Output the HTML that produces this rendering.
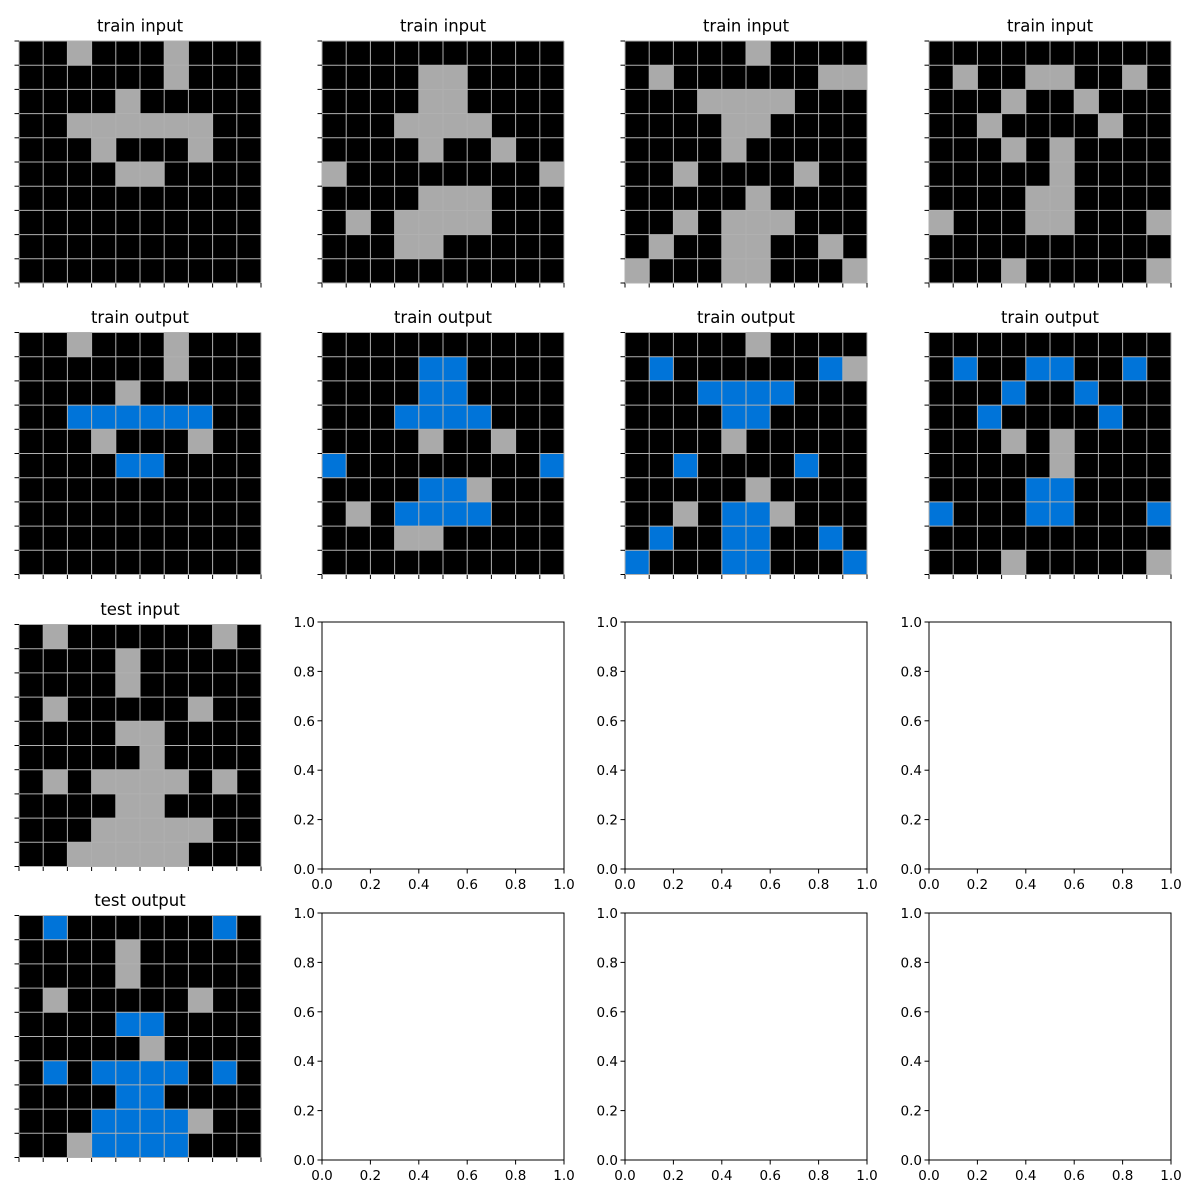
<!DOCTYPE html>
<html><head><meta charset="utf-8"><style>
html,body{margin:0;padding:0;background:#fff;}
svg{display:block;font-family:"DejaVu Sans","Liberation Sans",sans-serif;}
</style></head><body>
<svg id="fig" width="1200" height="1200" viewBox="0 0 1200 1200" xmlns="http://www.w3.org/2000/svg"></svg>
<script>
// Grid data: lists of [row, [cols]] for gray (5) and blue (8) cells
const grids = [
 {title:"train input", col:0, row:0, gray:[[0,[2,6]],[1,[6]],[2,[4]],[3,[2,3,4,5,6,7]],[4,[3,7]],[5,[4,5]]], blue:[]},
 {title:"train input", col:1, row:0, gray:[[1,[4,5]],[2,[4,5]],[3,[3,4,5,6]],[4,[4,7]],[5,[0,9]],[6,[4,5,6]],[7,[1,3,4,5,6]],[8,[3,4]]], blue:[]},
 {title:"train input", col:2, row:0, gray:[[0,[5]],[1,[1,8,9]],[2,[3,4,5,6]],[3,[4,5]],[4,[4]],[5,[2,7]],[6,[5]],[7,[2,4,5,6]],[8,[1,4,5,8]],[9,[0,4,5,9]]], blue:[]},
 {title:"train input", col:3, row:0, gray:[[1,[1,4,5,8]],[2,[3,6]],[3,[2,7]],[4,[3,5]],[5,[5]],[6,[4,5]],[7,[0,4,5,9]],[9,[3,9]]], blue:[]},
 {title:"train output", col:0, row:1, gray:[[0,[2,6]],[1,[6]],[2,[4]],[4,[3,7]]], blue:[[3,[2,3,4,5,6,7]],[5,[4,5]]]},
 {title:"train output", col:1, row:1, gray:[[4,[4,7]],[6,[6]],[7,[1]],[8,[3,4]]], blue:[[1,[4,5]],[2,[4,5]],[3,[3,4,5,6]],[5,[0,9]],[6,[4,5]],[7,[3,4,5,6]]]},
 {title:"train output", col:2, row:1, gray:[[0,[5]],[1,[9]],[4,[4]],[6,[5]],[7,[2,6]]], blue:[[1,[1,8]],[2,[3,4,5,6]],[3,[4,5]],[5,[2,7]],[7,[4,5]],[8,[1,4,5,8]],[9,[0,4,5,9]]]},
 {title:"train output", col:3, row:1, gray:[[4,[3,5]],[5,[5]],[9,[3,9]]], blue:[[1,[1,4,5,8]],[2,[3,6]],[3,[2,7]],[6,[4,5]],[7,[0,4,5,9]]]},
 {title:"test input", col:0, row:2, gray:[[0,[1,8]],[1,[4]],[2,[4]],[3,[1,7]],[4,[4,5]],[5,[5]],[6,[1,3,4,5,6,8]],[7,[4,5]],[8,[3,4,5,6,7]],[9,[2,3,4,5,6]]], blue:[]},
 {title:"test output", col:0, row:3, gray:[[1,[4]],[2,[4]],[3,[1,7]],[5,[5]],[8,[7]],[9,[2]]], blue:[[0,[1,8]],[4,[4,5]],[6,[1,3,4,5,6,8]],[7,[4,5]],[8,[3,4,5,6]],[9,[3,4,5,6]]]}
];
const emptyAxes = [[1,2],[2,2],[3,2],[1,3],[2,3],[3,3]];
const tickLabels = ["0.0","0.2","0.4","0.6","0.8","1.0"];
const tickValues = [0,0.2,0.4,0.6,0.8,1.0];

const NS="http://www.w3.org/2000/svg";
const svg=document.getElementById('fig');
const colX=[19,322,625,929];
const boxTop=[38.5,330,622,913];
const BW=242, BH=247;
function mk(tag,attrs,parent){const e=document.createElementNS(NS,tag);for(const k in attrs)e.setAttribute(k,attrs[k]);(parent||svg).appendChild(e);return e;}

grids.forEach((g,gi)=>{
  const grp=mk('g',{});
  
  
  const x0=colX[g.col], y0=boxTop[g.row]+(BH-BW)/2, cs=BW/10;
  const t=mk('text',{x:x0+BW/2,y:boxTop[g.row]-7,'text-anchor':'middle','font-size':'16.5',fill:'#000'},grp);
  t.textContent=g.title;
  
  
  const bg=mk('rect',{x:x0,y:y0,width:BW,height:BW,fill:'#000'},grp);
  
  
  const paint=(list,color,name)=>list.forEach(([r,cols])=>cols.forEach(c=>{
    const cell=mk('rect',{x:x0+c*cs,y:y0+r*cs,width:cs,height:cs,fill:color},grp);
    
    
  }));
  paint(g.gray,'#aaaaaa','gray-cell');
  paint(g.blue,'#0074d9','blue-cell');
  for(let i=0;i<=10;i++){
    const p=i*cs;
    mk('line',{x1:x0+p,y1:y0,x2:x0+p,y2:y0+BW,stroke:'#b0b0b0','stroke-width':1},grp);
    mk('line',{x1:x0,y1:y0+p,x2:x0+BW,y2:y0+p,stroke:'#b0b0b0','stroke-width':1},grp);
    mk('line',{x1:x0+p,y1:y0+BW,x2:x0+p,y2:y0+BW+4.5,stroke:'#000','stroke-width':1},grp);
    mk('line',{x1:x0-4.5,y1:y0+p,x2:x0,y2:y0+p,stroke:'#000','stroke-width':1},grp);
  }
});

emptyAxes.forEach(([c,r],i)=>{
  const grp=mk('g',{});
  
  
  const x0=colX[c], y0=boxTop[r], w=BW, h=BH;
  mk('rect',{x:x0,y:y0,width:w,height:h,fill:'#fff',stroke:'#000','stroke-width':1},grp);
  tickValues.forEach((v,k)=>{
    const px=x0+v*w, py=y0+h-v*h;
    mk('line',{x1:px,y1:y0+h,x2:px,y2:y0+h+4.5,stroke:'#000','stroke-width':1},grp);
    mk('line',{x1:x0-4.5,y1:py,x2:x0,y2:py,stroke:'#000','stroke-width':1},grp);
    const tx=mk('text',{x:px,y:y0+h+20,'text-anchor':'middle','font-size':'13.5',fill:'#000'},grp);
    tx.textContent=tickLabels[k];
    
    
    const ty=mk('text',{x:x0-7,y:py+5,'text-anchor':'end','font-size':'13.5',fill:'#000'},grp);
    ty.textContent=tickLabels[k];
    
    
  });
});
</script>
</body></html>
